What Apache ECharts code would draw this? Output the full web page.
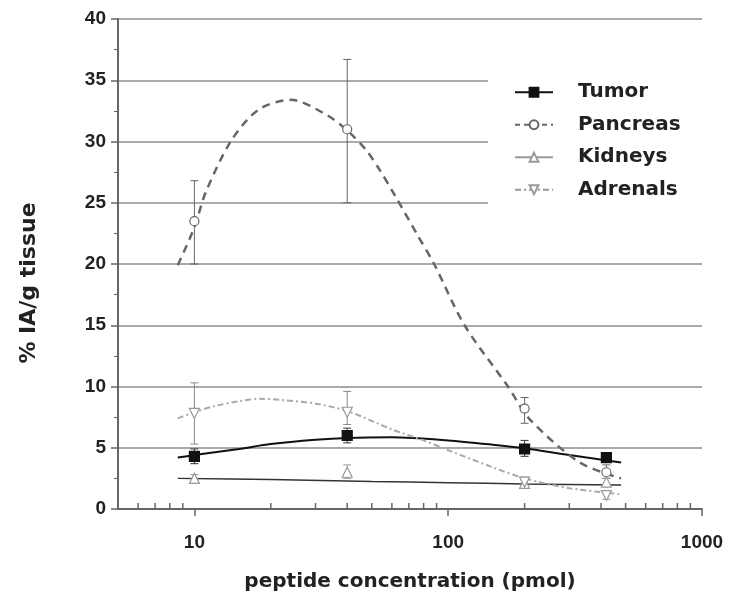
<!DOCTYPE html>
<html>
<head>
<meta charset="utf-8">
<script src="https://cdn.jsdelivr.net/npm/echarts@6/dist/echarts.min.js"></script>
<style>
  html, body { margin: 0; padding: 0; background: #fff; }
  #main { width: 730px; height: 598px; }
</style>
</head>
<body>
<div id="main"></div>
<script>
// measured points: [pmol, %IA/g]
var tumorPts = [[10, 4.3], [40, 6.0], [200, 4.9], [420, 4.2]];
var pancreasPts = [[10, 23.5], [40, 31.0], [200, 8.2], [420, 3.0]];
var kidneysPts = [[10, 2.5], [40, 3.0], [200, 2.1], [420, 2.2]];
var adrenalsPts = [[10, 7.8], [40, 7.9], [200, 2.2], [420, 1.1]];

// error bars: [pmol, low, high]
var tumorErr = [[10, 3.7, 4.9], [40, 5.4, 6.6], [200, 4.3, 5.6], [420, 3.9, 4.5]];
var pancreasErr = [[10, 20.0, 26.8], [40, 25.0, 36.7], [200, 7.0, 9.1], [420, 2.5, 3.6]];
var kidneysErr = [[10, 2.2, 2.8], [40, 2.5, 3.6], [200, 1.8, 2.4], [420, 1.9, 2.5]];
var adrenalsErr = [[10, 5.3, 10.3], [40, 6.9, 9.6], [200, 1.8, 2.6], [420, 0.8, 1.4]];

// fitted curves
var tumorFit = [[8.6, 4.2], [10, 4.4], [15, 4.9], [20, 5.3], [30, 5.65], [40, 5.8], [60, 5.85], [100, 5.6], [150, 5.25], [200, 4.95], [300, 4.4], [480, 3.8]];
var pancreasFit = [[8.6, 19.9], [10, 23.0], [11.1, 25.9], [14, 30.1], [17.9, 32.6], [24, 33.4], [33, 32.2], [40, 30.9], [47.5, 29.3], [54, 27.6], [62, 25.5], [75, 22.5], [88, 20.0], [116, 15.0], [172, 10.0], [210, 7.3], [330, 3.8], [480, 2.5]];
var kidneysFit = [[8.6, 2.5], [20, 2.4], [50, 2.25], [100, 2.15], [200, 2.05], [480, 1.95]];
var adrenalsFit = [[8.6, 7.4], [10, 7.9], [12, 8.4], [15, 8.8], [18, 9.0], [22, 8.9], [30, 8.6], [40, 8.0], [60, 6.5], [80, 5.6], [100, 4.8], [150, 3.4], [200, 2.5], [300, 1.7], [480, 1.2]];

var minorTicksX = [6, 7, 8, 9, 20, 30, 40, 50, 60, 70, 80, 90, 200, 300, 400, 500, 600, 700, 800, 900];

var textFont = '"DejaVu Sans", sans-serif';
var numFont = '"Liberation Sans", Arial, sans-serif';

function errorBars(name, data, color) {
    return {
        name: name,
        type: 'custom',
        data: data,
        z: 3,
        renderItem: function (params, api) {
            var p1 = api.coord([api.value(0), api.value(1)]);
            var p2 = api.coord([api.value(0), api.value(2)]);
            var w = 4;
            var st = { stroke: color, lineWidth: 1 };
            return {
                type: 'group',
                children: [
                    { type: 'line', shape: { x1: p1[0], y1: p1[1], x2: p2[0], y2: p2[1] }, style: st },
                    { type: 'line', shape: { x1: p1[0] - w, y1: p1[1], x2: p1[0] + w, y2: p1[1] }, style: st },
                    { type: 'line', shape: { x1: p2[0] - w, y1: p2[1], x2: p2[0] + w, y2: p2[1] }, style: st }
                ]
            };
        }
    };
}

function fitLine(name, data, color, type, width) {
    return {
        name: name,
        type: 'line',
        data: data,
        symbol: 'none',
        smooth: 0.3,
        z: 2,
        lineStyle: { color: color, width: width, type: type }
    };
}

function points(name, data, symbol, size, fill, border, rotate) {
    return {
        name: name,
        type: 'line',
        data: data,
        symbol: symbol,
        symbolSize: size,
        symbolRotate: rotate || 0,
        z: 4,
        lineStyle: { opacity: 0 },
        itemStyle: { color: fill, borderColor: border, borderWidth: 1.2 }
    };
}

var myChart = echarts.init(document.getElementById('main'));

var option = {
    backgroundColor: '#fff',
    animation: false,
    grid: { left: 118, right: 28, top: 19, bottom: 89 },
    legend: {
        left: 488,
        top: 67,
        orient: 'vertical',
        backgroundColor: '#fff',
        padding: [15, 30, 15, 26],
        itemWidth: 38,
        itemHeight: 11,
        itemGap: 12,
        textStyle: { fontFamily: textFont, fontWeight: 'bold', fontSize: 20, color: '#222', lineHeight: 20.5, padding: [0, 0, 0, 20] },
        data: [
            { name: 'Tumor', lineStyle: { opacity: 1, color: '#111', width: 2, type: 'solid' } },
            { name: 'Pancreas', lineStyle: { opacity: 1, color: '#666', width: 2, type: [5, 4] } },
            { name: 'Kidneys', lineStyle: { opacity: 1, color: '#999', width: 2, type: 'solid' } },
            { name: 'Adrenals', lineStyle: { opacity: 1, color: '#999', width: 2, type: [6, 3, 2, 3] } }
        ]
    },
    xAxis: {
        type: 'log',
        logBase: 10,
        min: 5,
        max: 1000,
        name: 'peptide concentration (pmol)',
        nameLocation: 'middle',
        nameGap: 63,
        nameTextStyle: { fontFamily: textFont, fontWeight: 'bold', fontSize: 20, color: '#222' },
        axisLine: { lineStyle: { color: '#666', width: 2 } },
        axisTick: { length: 7, lineStyle: { color: '#666', width: 1.5 } },
        axisLabel: {
            margin: 24,
            fontFamily: numFont, fontWeight: 'bold', fontSize: 19, color: '#222',
            showMinLabel: false,
            formatter: function (v) { return v < 10 ? '' : String(Math.round(v)); }
        },
        splitLine: { show: false }
    },
    yAxis: {
        type: 'value',
        min: 0,
        max: 40,
        interval: 5,
        name: '% IA/g tissue',
        nameLocation: 'middle',
        nameGap: 78,
        nameTextStyle: { fontFamily: textFont, fontWeight: 'bold', fontSize: 22, color: '#222', padding: [0, 38, 0, 0] },
        axisLine: { show: true, lineStyle: { color: '#666', width: 2 } },
        axisTick: { show: true, length: 7, lineStyle: { color: '#666', width: 1.5 } },
        minorTick: { show: true, splitNumber: 2, length: 4, lineStyle: { color: '#666', width: 1 } },
        axisLabel: { margin: 12, fontFamily: numFont, fontWeight: 'bold', fontSize: 19, color: '#222' },
        splitLine: { show: true, lineStyle: { color: '#aaa', width: 2 } }
    },
    series: [
        {
            name: 'minorX',
            type: 'custom',
            data: minorTicksX,
            silent: true,
            clip: false,
            renderItem: function (params, api) {
                var p = api.coord([api.value(0), 0]);
                return { type: 'line', shape: { x1: p[0], y1: p[1] - 6, x2: p[0], y2: p[1] }, style: { stroke: '#666', lineWidth: 1.5 } };
            },
            encode: { x: 0 }
        },
        fitLine('Tumor fit', tumorFit, '#111', 'solid', 2),
        fitLine('Pancreas fit', pancreasFit, '#666', [8, 6], 2.5),
        fitLine('Kidneys fit', kidneysFit, '#333', 'solid', 1.5),
        fitLine('Adrenals fit', adrenalsFit, '#aaa', [6, 3, 2, 3], 2),
        errorBars('Tumor err', tumorErr, '#333'),
        errorBars('Pancreas err', pancreasErr, '#666'),
        errorBars('Kidneys err', kidneysErr, '#999'),
        errorBars('Adrenals err', adrenalsErr, '#888'),
        points('Tumor', tumorPts, 'rect', 10, '#111', '#111'),
        points('Pancreas', pancreasPts, 'circle', 9, '#fff', '#666'),
        points('Kidneys', kidneysPts, 'triangle', 10, '#fff', '#999'),
        points('Adrenals', adrenalsPts, 'triangle', 10, '#fff', '#999', 180)
    ]
};

myChart.setOption(option);
</script>
</body>
</html>
